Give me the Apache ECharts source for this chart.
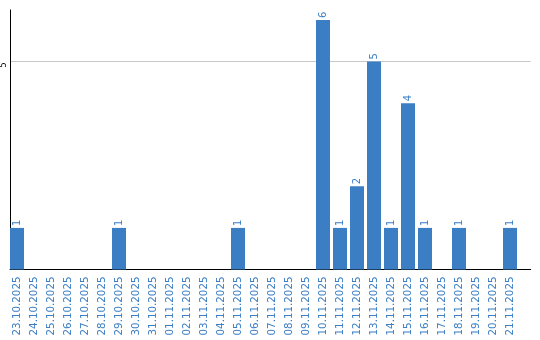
<!DOCTYPE html>
<html><head><meta charset="utf-8">
<script src="https://cdn.jsdelivr.net/npm/echarts@6/dist/echarts.min.js"></script>
<style>html,body{margin:0;padding:0;background:#fff}#c{width:540px;height:340px}</style>
</head><body><div id="c"></div>
<script>
const categories = ['23.10.2025','24.10.2025','25.10.2025','26.10.2025','27.10.2025','28.10.2025','29.10.2025','30.10.2025','31.10.2025','01.11.2025','02.11.2025','03.11.2025','04.11.2025','05.11.2025','06.11.2025','07.11.2025','08.11.2025','09.11.2025','10.11.2025','11.11.2025','12.11.2025','13.11.2025','14.11.2025','15.11.2025','16.11.2025','17.11.2025','18.11.2025','19.11.2025','20.11.2025','21.11.2025'];
const values = [1,0,0,0,0,0,1,0,0,0,0,0,0,1,0,0,0,0,6,1,2,5,1,4,1,0,1,0,0,1];
const yTicks = [5];
const yMax = 6.24;

const blue = '#3b7ec4';
const chart = echarts.init(document.getElementById('c'));
chart.setOption({
  animation: false,
  grid: [
    {left: 10, right: 9.3, top: 10, bottom: 70.5},
    {left: 8.5, right: 21.5, top: 10, bottom: 70.5}
  ],
  xAxis: [
    {gridIndex: 0, type: 'value', min: 0, max: 1,
      axisLine: {show: true, onZero: false, lineStyle: {color: '#000', width: 1}},
      axisTick: {show: false}, axisLabel: {show: false}, splitLine: {show: false}},
    {gridIndex: 1, type: 'category', data: categories,
      axisLine: {show: false}, axisTick: {show: false},
      axisLabel: {rotate: 90, color: blue, fontSize: 10.3, fontFamily: 'DejaVu Sans', margin: 7, interval: 0}}
  ],
  yAxis: [
    {gridIndex: 0, type: 'value', min: 0, max: yMax, interval: 5,
      axisLine: {show: true, lineStyle: {color: '#000', width: 1}},
      axisTick: {show: false},
      axisLabel: {rotate: 90, color: '#000', fontSize: 8, fontFamily: 'DejaVu Sans', margin: 2, padding: [0, 7, 0, 0],
        formatter: v => yTicks.includes(v) ? String(v) : ''},
      splitLine: {show: true, lineStyle: {color: ['#000', '#c8c8c8', 'rgba(0,0,0,0)'], width: 1}}},
    {gridIndex: 1, type: 'value', min: 0, max: yMax, show: false}
  ],
  series: [{
    type: 'bar', xAxisIndex: 1, yAxisIndex: 1,
    data: values.map(v => v === 0 ? null : v), barWidth: 14,
    itemStyle: {color: blue},
    label: {show: true, position: 'top', rotate: 90, align: 'left', verticalAlign: 'middle', distance: 2,
      color: blue, fontSize: 10, fontFamily: 'DejaVu Sans'}
  }]
});
</script></body></html>
